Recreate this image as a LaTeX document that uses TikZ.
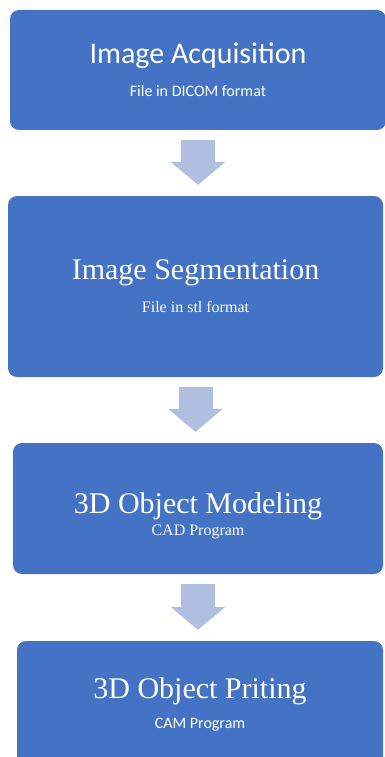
\documentclass[tikz,border=0pt]{standalone}
\usepackage{fontspec}
\setmainfont{Liberation Serif}
\newfontfamily\calibri{Carlito}
\usetikzlibrary{arrows.meta}
\definecolor{boxcolor}{HTML}{4472C4}
\definecolor{arrowcolor}{HTML}{B0BFE0}

\begin{document}
\begin{tikzpicture}[x=1pt,y=-1pt,
  stepbox/.style={rectangle, rounded corners=9pt, fill=boxcolor, text=white, align=center, inner sep=0pt},
  flow/.style={arrowcolor, line width=34pt, -{Triangle[width=55pt,length=23pt,line width=0pt]}, shorten <=10pt, shorten >=11pt}]
\useasboundingbox (0,0) rectangle (384,757);
% the four steps
\node[stepbox, minimum width=376pt, minimum height=120pt] (acq) at (198,70)
  {\calibri\fontsize{30}{34}\selectfont Image Acquisition\\[16pt]\calibri\fontsize{16}{19}\selectfont File in DICOM format};
\node[stepbox, minimum width=375pt, minimum height=181pt] (seg) at (195.5,286.5)
  {\fontsize{30}{34}\selectfont Image Segmentation\\[14pt]\fontsize{16}{19}\selectfont File in stl format};
\node[stepbox, minimum width=370pt, minimum height=131pt] (mod) at (198,508.5)
  {\fontsize{30}{34}\selectfont\rule{0pt}{35pt}3D Object Modeling\\[4pt]\fontsize{16}{19}\selectfont CAD Program};
\node[stepbox, minimum width=366pt, minimum height=127pt] (prt) at (200,704.5)
  {\fontsize{30}{34}\selectfont 3D Object Priting\\[12pt]\calibri\fontsize{16}{19}\selectfont CAM Program};
% block arrows
\draw[flow] (acq.south) -- (acq.south |- seg.north);
\draw[flow] (seg.south) -- (seg.south |- mod.north);
\draw[flow] (mod.south) -- (mod.south |- prt.north);
\end{tikzpicture}
\end{document}
